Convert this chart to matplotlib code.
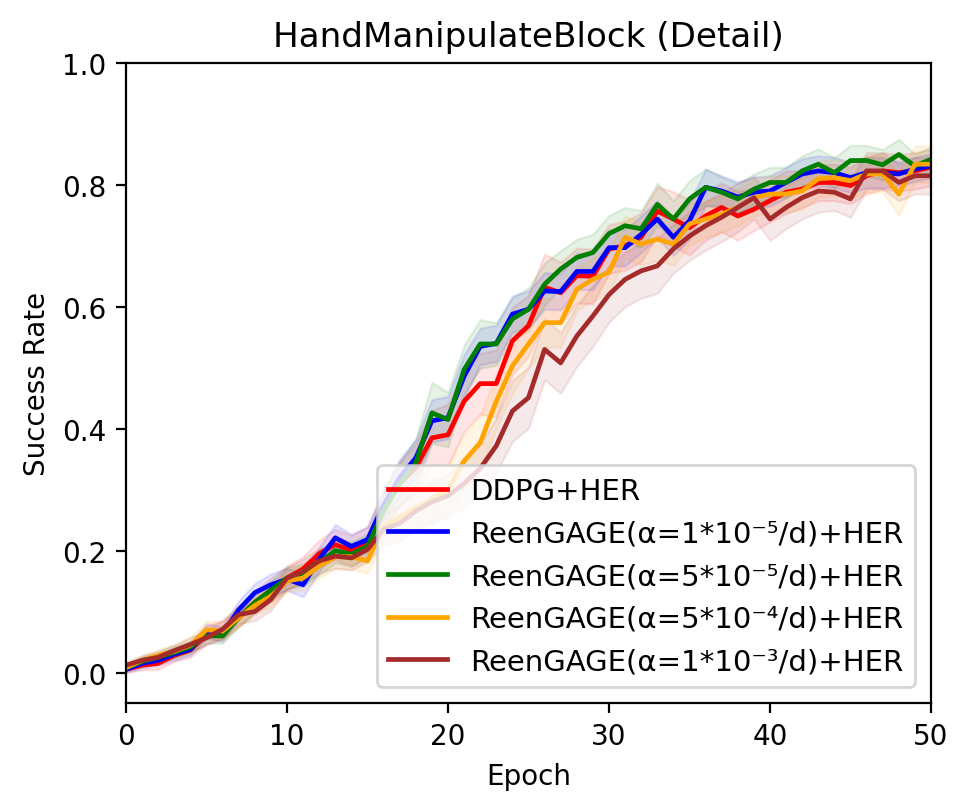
import numpy as np
import matplotlib
matplotlib.use("Agg")
import matplotlib.pyplot as plt

epochs = list(range(51))

labels = ["DDPG+HER",
          "ReenGAGE(α=1*10⁻⁵/d)+HER",
          "ReenGAGE(α=5*10⁻⁵/d)+HER",
          "ReenGAGE(α=5*10⁻⁴/d)+HER",
          "ReenGAGE(α=1*10⁻³/d)+HER"]
colors = ["red", "blue", "green", "orange", "brown"]

red_mean = [0.005, 0.012, 0.015, 0.028, 0.037, 0.062, 0.07, 0.09, 0.115, 0.135,
            0.155, 0.17, 0.195, 0.21, 0.2, 0.215, 0.27, 0.31, 0.336, 0.385,
            0.39, 0.445, 0.474, 0.474, 0.544, 0.569, 0.632, 0.623, 0.651, 0.65,
            0.695, 0.7, 0.714, 0.757, 0.744, 0.73, 0.749, 0.763, 0.749, 0.76,
            0.774, 0.788, 0.793, 0.804, 0.804, 0.799, 0.815, 0.823, 0.82, 0.823, 0.829]
blue_mean = [0.005, 0.015, 0.02, 0.03, 0.038, 0.068, 0.063, 0.103, 0.131, 0.144,
             0.153, 0.144, 0.186, 0.221, 0.207, 0.218, 0.275, 0.32, 0.352, 0.413,
             0.418, 0.486, 0.535, 0.54, 0.588, 0.596, 0.626, 0.625, 0.658, 0.658,
             0.697, 0.697, 0.719, 0.744, 0.714, 0.741, 0.796, 0.79, 0.78, 0.788,
             0.79, 0.804, 0.818, 0.823, 0.82, 0.812, 0.82, 0.82, 0.818, 0.826, 0.831]
green_mean = [0.008, 0.018, 0.025, 0.033, 0.042, 0.06, 0.06, 0.09, 0.115, 0.135,
              0.155, 0.16, 0.18, 0.2, 0.194, 0.207, 0.265, 0.31, 0.344, 0.426,
              0.415, 0.497, 0.539, 0.539, 0.58, 0.596, 0.637, 0.662, 0.681, 0.689,
              0.72, 0.733, 0.728, 0.768, 0.744, 0.777, 0.796, 0.788, 0.777, 0.793,
              0.804, 0.804, 0.823, 0.834, 0.82, 0.84, 0.84, 0.833, 0.85, 0.831, 0.842]
orange_mean = [0.008, 0.02, 0.028, 0.035, 0.045, 0.07, 0.068, 0.09, 0.11, 0.125,
               0.15, 0.155, 0.175, 0.19, 0.19, 0.183, 0.24, 0.255, 0.27, 0.285,
               0.3, 0.347, 0.377, 0.445, 0.503, 0.539, 0.574, 0.574, 0.629, 0.645,
               0.657, 0.714, 0.703, 0.711, 0.703, 0.736, 0.744, 0.752, 0.763, 0.779,
               0.785, 0.785, 0.79, 0.81, 0.812, 0.807, 0.818, 0.818, 0.785, 0.834, 0.834]
brown_mean = [0.012, 0.02, 0.025, 0.036, 0.046, 0.057, 0.071, 0.095, 0.1, 0.12,
              0.155, 0.166, 0.183, 0.191, 0.188, 0.202, 0.235, 0.245, 0.265, 0.28,
              0.29, 0.31, 0.335, 0.372, 0.429, 0.451, 0.53, 0.508, 0.552, 0.585,
              0.62, 0.645, 0.659, 0.667, 0.695, 0.716, 0.733, 0.747, 0.763, 0.779,
              0.744, 0.763, 0.779, 0.79, 0.788, 0.777, 0.823, 0.823, 0.804, 0.815, 0.815]

red_std = [0.005, 0.008, 0.01, 0.01, 0.012, 0.015, 0.015, 0.015, 0.018, 0.02,
           0.02, 0.02, 0.022, 0.025, 0.025, 0.025, 0.03, 0.035, 0.04, 0.045,
           0.05, 0.05, 0.05, 0.055, 0.055, 0.05, 0.055, 0.05, 0.045, 0.045,
           0.04, 0.04, 0.04, 0.04, 0.045, 0.045, 0.04, 0.04, 0.04, 0.035,
           0.035, 0.035, 0.03, 0.03, 0.03, 0.03, 0.03, 0.03, 0.03, 0.03, 0.03]
blue_std = [0.005, 0.008, 0.008, 0.01, 0.01, 0.012, 0.012, 0.015, 0.015, 0.018,
            0.018, 0.02, 0.02, 0.022, 0.02, 0.02, 0.025, 0.03, 0.03, 0.035,
            0.035, 0.035, 0.03, 0.03, 0.03, 0.03, 0.03, 0.03, 0.03, 0.03,
            0.03, 0.03, 0.03, 0.03, 0.03, 0.03, 0.03, 0.025, 0.025, 0.025,
            0.025, 0.025, 0.025, 0.025, 0.025, 0.025, 0.025, 0.025, 0.02, 0.02, 0.02]
green_std = [0.005, 0.008, 0.008, 0.01, 0.01, 0.012, 0.012, 0.015, 0.015, 0.015,
             0.018, 0.018, 0.02, 0.02, 0.02, 0.02, 0.03, 0.035, 0.04, 0.05,
             0.045, 0.04, 0.04, 0.035, 0.035, 0.035, 0.035, 0.03, 0.03, 0.03,
             0.03, 0.03, 0.03, 0.035, 0.03, 0.03, 0.03, 0.025, 0.025, 0.025,
             0.025, 0.025, 0.025, 0.025, 0.025, 0.025, 0.025, 0.025, 0.025, 0.02, 0.02]
orange_std = [0.005, 0.008, 0.01, 0.01, 0.012, 0.015, 0.015, 0.015, 0.015, 0.018,
              0.018, 0.02, 0.02, 0.02, 0.02, 0.02, 0.025, 0.03, 0.035, 0.04,
              0.04, 0.045, 0.045, 0.045, 0.045, 0.04, 0.04, 0.04, 0.035, 0.035,
              0.035, 0.035, 0.035, 0.035, 0.035, 0.035, 0.03, 0.03, 0.03, 0.03,
              0.03, 0.03, 0.03, 0.03, 0.03, 0.03, 0.03, 0.03, 0.035, 0.03, 0.03]
brown_std = [0.005, 0.008, 0.01, 0.01, 0.012, 0.012, 0.015, 0.015, 0.015, 0.018,
             0.018, 0.02, 0.02, 0.02, 0.02, 0.02, 0.025, 0.03, 0.03, 0.035,
             0.035, 0.04, 0.04, 0.045, 0.05, 0.05, 0.05, 0.05, 0.05, 0.05,
             0.045, 0.045, 0.045, 0.045, 0.04, 0.04, 0.04, 0.04, 0.04, 0.035,
             0.035, 0.035, 0.035, 0.035, 0.03, 0.03, 0.03, 0.03, 0.03, 0.03, 0.03]

means = [red_mean, blue_mean, green_mean, orange_mean, brown_mean]
stds = [red_std, blue_std, green_std, orange_std, brown_std]

fig = plt.figure(figsize=(4.85, 4.06), dpi=200)
ax = fig.add_axes([126/970, 1 - 704/812, (931-126)/970, (704-64)/812])

x = np.array(epochs)
for m, s, c, lab in zip(means, stds, colors, labels):
    m = np.array(m); s = np.array(s)
    ax.plot(x, m, color=c, lw=1.7, label=lab)
for m, s, c in zip(means, stds, colors):
    m = np.array(m); s = np.array(s)
    ax.fill_between(x, m - s, m + s, facecolor=c, alpha=0.1, edgecolor=c, linewidth=0.8)

ax.set_xlim(0, 50)
ax.set_ylim(-0.05, 1.0)
ax.set_yticks([0.0, 0.2, 0.4, 0.6, 0.8, 1.0])
ax.set_xlabel("Epoch")
ax.set_ylabel("Success Rate")
ax.set_title("HandManipulateBlock (Detail)", fontsize=12.3)
ax.legend(loc="lower right", fontsize=10.5, borderaxespad=0.55)

fig.savefig("out.png", dpi=200)
